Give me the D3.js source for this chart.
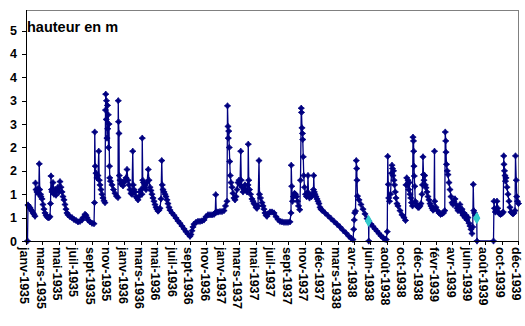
<!DOCTYPE html>
<html><head><meta charset="utf-8">
<script src="https://cdn.jsdelivr.net/npm/d3@7"></script>
<style>body{margin:0;background:#fff}svg{display:block}</style>
</head><body>
<svg id="c" width="525" height="326"></svg>
<script>
const xLabels = ["janv-1935","mars-1935","mai-1935","juil-1935","sept-1935","nov-1935","janv-1936","mars-1936","mai-1936","juil-1936","sept-1936","nov-1936","janv-1937","mars-1937","mai-1937","juil-1937","sept-1937","nov-1937","déc-1937","mars-1938","avr-1938","juin-1938","août-1938","oct-1938","déc-1938","févr-1939","avr-1939","juin-1939","août-1939","oct-1939","déc-1939"];
const yTicks = [0,0.5,1,1.5,2,2.5,3,3.5,4,4.5];
const yTickLabels = ["0","1","1","2","2","3","3","4","4","5"];
const yTitle = "hauteur en m";
const nJours = 1968;
const yMax = 4.94;
// [jour (rang de la ligne), hauteur en m]
const hauteur = [[6,0],[8,0.77],[12,0.74],[16,0.71],[20,0.67],[24,0.64],[28,0.6],[32,0.57],[36,0.53],[38,1.24],[40,1.1],[44,1.05],[48,1.12],[51,1.0],[53,1.65],[55,1.1],[58,1.0],[60,0.95],[64,0.9],[68,0.78],[72,0.68],[76,0.6],[80,0.55],[84,0.52],[88,0.5],[92,0.5],[96,0.52],[98,0.8],[100,1.39],[102,1.1],[104,1.05],[108,1.25],[112,1.0],[116,1.1],[120,0.98],[124,1.08],[128,1.15],[132,1.05],[136,1.27],[140,1.15],[144,1.05],[148,0.95],[152,0.88],[156,0.78],[160,0.68],[164,0.6],[168,0.56],[176,0.52],[184,0.5],[192,0.46],[200,0.44],[208,0.41],[216,0.42],[224,0.45],[228,0.5],[236,0.57],[240,0.55],[244,0.5],[248,0.45],[256,0.41],[264,0.38],[272,0.37],[274,0.82],[275,2.33],[277,1.6],[280,1.45],[284,1.35],[288,1.4],[291,1.92],[293,1.3],[296,1.2],[300,1.1],[304,1.0],[308,0.92],[312,0.86],[316,0.82],[318,2.8],[319,3.14],[321,2.6],[322,3.0],[324,2.2],[326,2.9],[327,2.4],[329,2.7],[330,2.0],[332,2.5],[334,1.6],[335,1.35],[338,1.28],[344,1.2],[350,1.1],[356,1.02],[362,0.96],[368,0.93],[369,3.0],[370,2.55],[372,2.3],[373,1.4],[376,1.3],[380,1.22],[384,1.25],[388,1.18],[392,1.25],[396,1.3],[400,1.35],[404,1.53],[408,1.3],[412,1.2],[416,1.1],[420,1.02],[424,1.0],[427,1.92],[429,1.2],[432,1.1],[436,1.05],[440,0.95],[444,0.92],[448,0.88],[452,0.95],[456,1.05],[460,1.1],[464,1.0],[465,2.2],[467,1.3],[470,1.25],[472,1.15],[476,1.2],[480,1.1],[484,1.25],[489,1.53],[492,1.3],[496,1.15],[500,1.08],[504,1.0],[508,0.92],[512,0.85],[516,0.78],[520,0.72],[524,0.68],[528,0.64],[532,0.66],[536,0.7],[540,0.9],[543,1.72],[545,1.2],[548,1.1],[552,1.05],[556,1.0],[560,0.95],[564,0.88],[568,0.8],[572,0.72],[576,0.66],[584,0.6],[592,0.55],[600,0.49],[608,0.43],[616,0.38],[624,0.32],[632,0.26],[640,0.2],[648,0.15],[656,0.1],[660,0.14],[664,0.22],[668,0.3],[672,0.36],[680,0.4],[688,0.42],[696,0.42],[704,0.43],[712,0.45],[720,0.52],[728,0.56],[736,0.56],[744,0.56],[752,0.57],[757,0.6],[759,0.99],[761,0.62],[768,0.62],[776,0.63],[784,0.63],[792,0.65],[798,0.75],[804,0.85],[806,2.89],[808,2.45],[809,2.2],[811,2.35],[813,2.0],[815,1.7],[817,1.4],[820,1.25],[824,1.15],[828,1.02],[832,0.92],[836,0.88],[840,0.95],[844,1.1],[848,1.25],[852,1.3],[856,1.2],[859,1.92],[861,1.3],[864,1.15],[868,1.05],[872,1.1],[876,1.2],[880,1.1],[884,1.05],[888,1.2],[889,2.07],[891,1.3],[894,1.1],[898,1.0],[904,0.9],[908,0.85],[912,0.8],[916,0.78],[920,0.72],[924,0.7],[928,0.75],[932,1.72],[934,1.0],[938,0.92],[944,0.82],[948,0.75],[952,0.68],[956,0.6],[960,0.55],[964,0.53],[968,0.58],[976,0.62],[984,0.62],[992,0.6],[1000,0.52],[1008,0.46],[1016,0.42],[1024,0.41],[1032,0.4],[1040,0.4],[1048,0.4],[1056,0.41],[1060,0.6],[1061,1.62],[1063,1.17],[1066,0.85],[1070,0.95],[1074,1.02],[1078,1.0],[1082,0.95],[1086,0.85],[1090,0.75],[1095,0.67],[1098,1.3],[1101,2.84],[1102,2.75],[1104,2.42],[1106,2.3],[1107,2.17],[1109,1.8],[1111,1.4],[1114,1.15],[1118,1.0],[1122,0.95],[1126,1.05],[1128,1.4],[1130,1.0],[1134,0.92],[1138,0.98],[1142,0.95],[1146,1.0],[1150,1.1],[1151,1.4],[1153,1.05],[1156,1.0],[1160,0.95],[1164,0.9],[1168,0.85],[1172,0.8],[1176,0.72],[1180,0.68],[1184,0.66],[1196,0.6],[1208,0.54],[1220,0.48],[1232,0.42],[1244,0.36],[1256,0.3],[1268,0.23],[1280,0.17],[1292,0.1],[1300,0.06],[1308,0.03],[1311,0.25],[1313,0.45],[1315,0.6],[1318,0.64],[1321,1.72],[1323,1.55],[1324,1.3],[1326,0.96],[1332,0.88],[1340,0.78],[1348,0.68],[1356,0.58],[1364,0.48],[1370,0.43],[1371,0],[1372,0.42],[1380,0.36],[1388,0.31],[1396,0.26],[1404,0.21],[1412,0.16],[1420,0.11],[1428,0.07],[1436,0.04],[1441,0.03],[1445,0.2],[1447,1.81],[1449,1.21],[1451,0.92],[1454,0.85],[1458,1.0],[1462,1.45],[1464,1.62],[1466,1.55],[1468,1.4],[1470,1.5],[1472,1.3],[1474,1.2],[1477,1.05],[1480,0.92],[1484,0.8],[1488,0.75],[1496,0.65],[1504,0.56],[1512,0.5],[1518,0.44],[1520,1.2],[1523,1.35],[1525,1.2],[1528,1.3],[1531,1.1],[1533,1.25],[1536,1.0],[1539,0.92],[1542,0.82],[1546,0.75],[1548,2.22],[1550,2.14],[1551,1.92],[1552,1.6],[1553,1.39],[1555,1.17],[1557,0.85],[1560,0.8],[1564,0.75],[1568,0.72],[1572,0.72],[1576,0.75],[1580,0.8],[1584,1.0],[1586,1.2],[1588,1.8],[1590,1.42],[1592,1.3],[1595,1.4],[1597,1.2],[1600,1.14],[1604,1.05],[1608,0.95],[1612,0.88],[1616,0.8],[1620,0.75],[1624,0.7],[1628,0.66],[1632,0.68],[1634,1.92],[1635,0.85],[1640,0.72],[1646,0.65],[1652,0.6],[1658,0.57],[1664,0.58],[1670,0.6],[1675,0.65],[1677,2.33],[1679,2.14],[1680,1.9],[1682,1.64],[1685,1.5],[1688,1.42],[1692,1.25],[1696,1.1],[1700,0.95],[1704,0.82],[1708,0.78],[1712,0.85],[1716,0.9],[1720,0.78],[1724,0.7],[1728,0.65],[1732,0.72],[1736,0.78],[1740,0.62],[1744,0.68],[1748,0.55],[1752,0.6],[1756,0.5],[1760,0.55],[1764,0.45],[1768,0.5],[1772,0.38],[1776,0.32],[1780,0.25],[1784,0.16],[1787,0.3],[1789,1.21],[1791,0.65],[1794,0.6],[1798,0.55],[1803,0.49],[1804,0],[1870,0],[1872,0.85],[1874,0.7],[1877,0.62],[1880,0.65],[1884,0.85],[1887,0.7],[1890,0.62],[1894,0.58],[1898,0.57],[1902,0.58],[1906,0.6],[1909,0.62],[1911,1.82],[1912,1.64],[1914,1.5],[1916,1.4],[1918,1.28],[1920,1.35],[1924,1.15],[1928,1.0],[1932,0.85],[1936,0.72],[1940,0.62],[1944,0.6],[1948,0.58],[1952,0.6],[1956,0.65],[1958,1.82],[1961,1.3],[1963,0.95],[1966,0.85],[1970,0.8]];
// points signalés (cyan)
const lacunes = [[1370,0.43],[1803,0.49]];

const svg = d3.select("#c");
const L = 26, R = 518, T = 10, B = 241;
const x = d3.scaleLinear().domain([0, nJours]).range([L, R]);
const y = d3.scaleLinear().domain([0, yMax]).range([B, T]);
const xCat = d3.scalePoint().domain(xLabels).range([L, R]);
const font = "'Liberation Sans', Arial, sans-serif";

svg.append("path").attr("d", `M${L},${T}H${R}V${B}`)
  .attr("fill", "none").attr("stroke", "#808080").attr("stroke-width", 1).attr("shape-rendering","crispEdges");

svg.append("path").datum(hauteur)
  .attr("d", d3.line().x(d => x(d[0])).y(d => y(d[1])))
  .attr("fill", "none").attr("stroke", "#000080").attr("stroke-width", 1.3);

const star = { draw(ctx, size) {
  const r = Math.sqrt(size) / 2, q = r * 0.42;
  ctx.moveTo(0, -r); ctx.lineTo(q, -q); ctx.lineTo(r, 0); ctx.lineTo(q, q);
  ctx.lineTo(0, r); ctx.lineTo(-q, q); ctx.lineTo(-r, 0); ctx.lineTo(-q, -q); ctx.closePath();
}};
svg.append("g").selectAll("path").data(hauteur).join("path")
  .attr("transform", d => `translate(${x(d[0])},${y(d[1])})`)
  .attr("d", d3.symbol().type(star).size(40))
  .attr("fill", "#000080").attr("stroke", "#000080").attr("stroke-width", 0.8);

svg.append("g").selectAll("path").data(lacunes).join("path")
  .attr("transform", d => `translate(${x(d[0])},${y(d[1])})`)
  .attr("d", d3.symbol().type(d3.symbolDiamond).size(34))
  .attr("fill", "#33CCCC").attr("stroke", "#33CCCC");

const gy = svg.append("g").attr("transform", `translate(${L},0)`)
  .call(d3.axisLeft(y).tickValues(yTicks).tickFormat((d, i) => yTickLabels[i]).tickSize(4).tickSizeOuter(0).tickPadding(5));
gy.select(".domain").attr("d", `M0,${T}V${B}`);
gy.selectAll("path,line").attr("stroke", "#000").attr("shape-rendering","crispEdges");
gy.selectAll("text").attr("font-family", font).attr("font-weight", "bold").attr("font-size", 12.5).attr("fill", "#000");

const gx = svg.append("g").attr("transform", `translate(0,${B})`)
  .call(d3.axisBottom(xCat).tickSize(4).tickSizeOuter(0));
gx.selectAll("path,line").attr("stroke", "#000").attr("shape-rendering","crispEdges");
gx.selectAll("text").attr("font-family", font).attr("font-weight", "bold").attr("font-size", 12.5).attr("fill", "#000")
  .attr("transform", "rotate(90)").attr("text-anchor", "start").attr("x", 6).attr("y", 2).attr("dy", "0.35em");

svg.append("text").attr("x", L + 1).attr("y", 32).text(yTitle)
  .attr("font-family", font).attr("font-weight", "bold").attr("font-size", 14.5).attr("fill", "#000");
</script>
</body></html>
